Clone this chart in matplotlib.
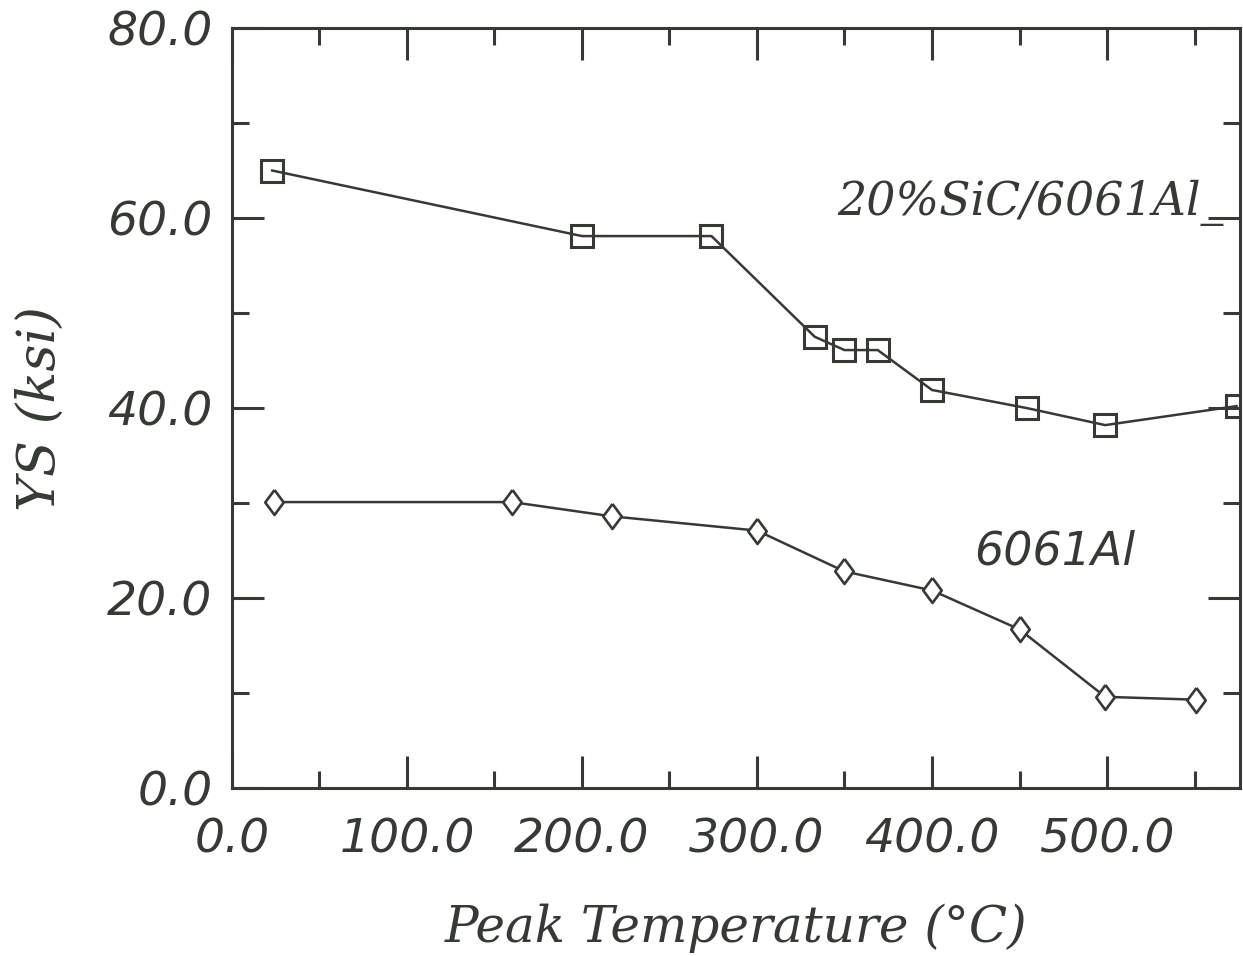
import matplotlib.pyplot as plt
from matplotlib.ticker import MultipleLocator, FormatStrFormatter

# yield strength vs peak temperature
sic_temp = [23, 200, 274, 333, 350, 369, 400, 454, 499, 574]
sic_ys = [65.0, 58.1, 58.1, 47.5, 46.1, 46.1, 41.9, 40.0, 38.2, 40.2]

al_temp = [24, 160, 217, 300, 350, 400, 450, 499, 551]
al_ys = [30.1, 30.1, 28.6, 27.1, 22.8, 20.8, 16.7, 9.6, 9.3]

ink = '#353a35'
diamond = [(0, 1), (0.74, 0), (0, -1), (-0.74, 0), (0, 1)]

fig = plt.figure(figsize=(12.43, 9.56), dpi=100)
ax = fig.add_axes([0.1866, 0.1757, 0.811, 0.7950])

ax.plot(sic_temp, sic_ys, '-', color=ink, lw=1.8, marker='s', ms=16,
        mfc='none', mec=ink, mew=2.2, clip_on=True)
ax.plot(al_temp, al_ys, '-', color=ink, lw=1.8, marker=diamond, ms=18,
        mfc='white', mec=ink, mew=1.9)

ax.set_xlim(0, 576)
ax.set_ylim(0, 80)

ax.xaxis.set_major_locator(MultipleLocator(100))
ax.xaxis.set_minor_locator(MultipleLocator(50))
ax.yaxis.set_major_locator(MultipleLocator(20))
ax.yaxis.set_minor_locator(MultipleLocator(10))
ax.xaxis.set_major_formatter(FormatStrFormatter('%.1f'))
ax.yaxis.set_major_formatter(FormatStrFormatter('%.1f'))

ax.tick_params(which='both', direction='in', top=True, right=True,
               color=ink, width=2.2, labelcolor=ink, labelsize=34, pad=14)
ax.tick_params(axis='x', pad=21)
ax.tick_params(which='major', length=23)
ax.tick_params(which='minor', length=12)
for lab in ax.get_xticklabels() + ax.get_yticklabels():
    lab.set_fontstyle('oblique')
for sp in ax.spines.values():
    sp.set_color(ink)
    sp.set_linewidth(2.2)

ax.set_xlabel('Peak Temperature (°C)', fontsize=36, family='DejaVu Serif',
              style='italic', color=ink, labelpad=30)
ax.set_ylabel('YS (ksi)', fontsize=38, family='DejaVu Serif',
              style='italic', color=ink, labelpad=30)

ax.text(346, 60.3, '20%SiC/6061Al_', fontsize=33, family='DejaVu Serif',
        style='italic', color=ink, va='baseline', ha='left')
ax.text(424, 24.8, '6061Al', fontsize=33, family='DejaVu Sans',
        style='oblique', color=ink, va='center', ha='left')

fig.savefig('out.png', dpi=100, facecolor='white')
